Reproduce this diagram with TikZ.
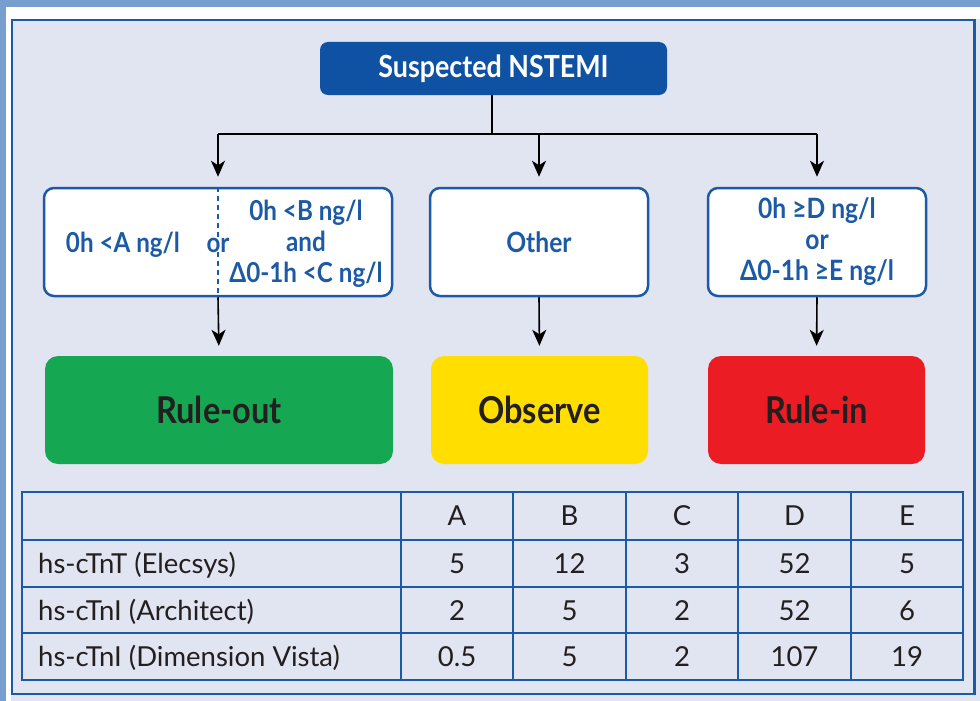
\documentclass[tikz,border=0pt]{standalone}
\usepackage{fontspec}
\setmainfont{Lato}
\newfontfamily\gillcond{Lato}[FakeStretch=0.88]
\usetikzlibrary{arrows.meta}
\definecolor{stripblue}{RGB}{118,159,207}
\definecolor{frameblue}{RGB}{28,90,166}
\definecolor{boxblue}{RGB}{15,82,163}
\definecolor{paleback}{RGB}{225,228,241}
\definecolor{textdark}{RGB}{35,31,32}
\definecolor{outgreen}{RGB}{22,167,83}
\definecolor{obsyellow}{RGB}{255,222,0}
\definecolor{inred}{RGB}{236,28,36}

\tikzset{
  crit/.style={draw=frameblue, fill=white, line width=2.5pt, rounded corners=10pt,
    minimum height=108pt, inner sep=0pt, text=frameblue, align=center,
    font=\gillcond\bfseries\fontsize{28}{31}\selectfont},
  critext/.style={text=frameblue, align=center, inner sep=0pt,
    font=\gillcond\bfseries\fontsize{27.5}{31}\selectfont},
  result/.style={rounded corners=13pt, minimum height=108pt, inner sep=0pt,
    text=textdark, font=\gillcond\bfseries\fontsize{37}{40}\selectfont},
  flow/.style={line width=1.6pt, shorten >=10pt,
    -{Stealth[length=16pt,width=14pt,inset=4.5pt]}},
  tabline/.style={draw=frameblue, line width=1.8pt},
  cell/.style={text=textdark, inner sep=0pt, anchor=base,
    font=\fontsize{27.5}{30}\selectfont},
}

\begin{document}
\begin{tikzpicture}[x=1pt,y=-1pt]
\useasboundingbox (0,0) rectangle (980,701);

% frame
\fill [paleback] (0,0) rectangle (980,701);
\fill [white] (6,7) rectangle (980,19);
\fill [white] (6,7) rectangle (11,701);
\fill [stripblue] (0,0) rectangle (980,7);
\fill [stripblue] (0,0) rectangle (6,701);
\draw [frameblue, line width=2.5pt] (12,20) rectangle (974.5,694);

% flow chart
\node [fill=boxblue, rounded corners=8pt, minimum width=347pt, minimum height=53pt,
  text=white, font=\gillcond\bfseries\fontsize{30.5}{33}\selectfont] (nstemi) at (493.5,68.5) {Suspected NSTEMI};
\coordinate (split) at (492,134);

\node [crit, minimum width=348pt] (outbox) at (218,242) {};
\node [critext] (critA) at (123,245) {0h <A ng/l};
\node [critext] (critor) at (218,245) {or};
\node [critext] (critBC) at (306,244) {0h <B ng/l\\and\\Δ0-1h <C ng/l};
\node [crit, minimum width=218pt] (otherbox) at (539,242) {Other};
\node [crit, minimum width=218pt] (inbox) at (817,242) {0h ≥D ng/l\\or\\Δ0-1h ≥E ng/l};

\node [result, fill=outgreen, minimum width=348pt] (ruleout) at (219,410) {Rule-out};
\node [result, fill=obsyellow, minimum width=217pt] (observe) at (539.5,410) {Observe};
\node [result, fill=inred, minimum width=217pt] (rulein) at (816.5,410) {Rule-in};

\draw [line width=1.6pt] (split |- nstemi.south) -- (split);
\draw [line width=1.6pt] (outbox.north |- split) -- (inbox.north |- split);
\draw [flow] (outbox.north |- split) -- (outbox.north);
\draw [flow] (otherbox.north |- split) -- (otherbox.north);
\draw [flow] (inbox.north |- split) -- (inbox.north);
\draw [flow] (outbox.south) -- (ruleout.north);
\draw [flow] (otherbox.south) -- (observe.north);
\draw [flow] (inbox.south) -- (rulein.north);
\draw [frameblue, line width=1.2pt, dash pattern=on 5pt off 4pt] (outbox.north) -- (critor.north);
\draw [frameblue, line width=1.2pt, dash pattern=on 5pt off 4pt] (critor.south) -- (outbox.south);

% table
\draw [tabline] (22,492) rectangle (963,680);
\draw [tabline] (22,540) -- (963,540);
\draw [tabline] (22,587) -- (963,587);
\draw [tabline] (22,633) -- (963,633);
\draw [tabline] (401,492) -- (401,680);
\draw [tabline] (513,492) -- (513,680);
\draw [tabline] (626,492) -- (626,680);
\draw [tabline] (738,492) -- (738,680);
\draw [tabline] (851,492) -- (851,680);

\node [cell] (hdA) at (457,525) {A};
\node [cell] (hdB) at (569.5,525) {B};
\node [cell] (hdC) at (682,525) {C};
\node [cell] (hdD) at (794.5,525) {D};
\node [cell] (hdE) at (907,525) {E};

\node [cell, anchor=base west] (elecsys) at (38,573) {hs-cTnT (Elecsys)};
\node [cell, anchor=base west] (architect) at (38,620) {hs-cTnI (Architect)};
\node [cell, anchor=base west] (vista) at (38,666) {hs-cTnI (Dimension Vista)};

\node [cell] (elecA) at (457,573) {5};
\node [cell] (elecB) at (569.5,573) {12};
\node [cell] (elecC) at (682,573) {3};
\node [cell] (elecD) at (794.5,573) {52};
\node [cell] (elecE) at (907,573) {5};
\node [cell] (archA) at (457,620) {2};
\node [cell] (archB) at (569.5,620) {5};
\node [cell] (archC) at (682,620) {2};
\node [cell] (archD) at (794.5,620) {52};
\node [cell] (archE) at (907,620) {6};
\node [cell] (vistaA) at (457,666) {0.5};
\node [cell] (vistaB) at (569.5,666) {5};
\node [cell] (vistaC) at (682,666) {2};
\node [cell] (vistaD) at (794.5,666) {107};
\node [cell] (vistaE) at (907,666) {19};
\end{tikzpicture}
\end{document}
